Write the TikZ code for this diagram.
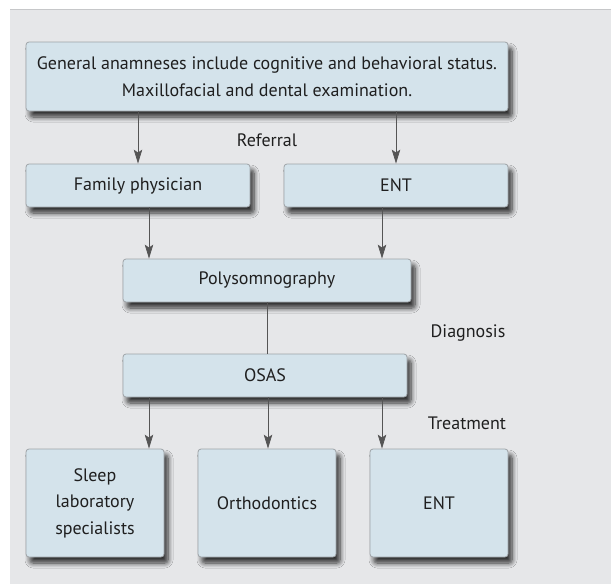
\documentclass[tikz,border=0pt]{standalone}
\usepackage{fontspec}
\setmainfont{PT Sans}
\usetikzlibrary{shadows.blur,arrows.meta}
\definecolor{panelfill}{HTML}{E6E7E9}
\definecolor{panelline}{HTML}{C6C7C9}
\definecolor{boxfill}{HTML}{D4E3EB}
\definecolor{boxline}{HTML}{9EA3A7}
\definecolor{arrowcol}{HTML}{555555}
\tikzset{
  stepbox/.style={draw=boxline, fill=boxfill, rounded corners=3pt, line width=0.8pt,
    blur shadow={shadow xshift=4pt, shadow yshift=-6pt, shadow blur steps=8, shadow blur radius=5pt, shadow opacity=80},
    inner sep=0pt, font=\fontsize{18}{26.5}\selectfont, align=center, text=black!88},
  conn/.style={draw=arrowcol, line width=0.7pt, -{Stealth[length=14pt,width=8.5pt,inset=3pt]}},
  plain/.style={draw=arrowcol, line width=0.7pt},
  lbl/.style={font=\fontsize{18}{26}\selectfont, text=black!88}
}
\begin{document}
\begin{tikzpicture}[x=1pt,y=-1pt]
\useasboundingbox (0,0) rectangle (611,584);
\draw[panelline, fill=panelfill, line width=0.8pt] (10,620) -- (10,9.5) -- (640,9.5);
\fill[panelfill] (10.4,9.9) rectangle (640,640);
\node[stepbox, minimum width=482pt, minimum height=69pt] (top) at (267,76.5)
  {General anamneses include cognitive and behavioral status.\\Maxillofacial and dental examination.};
\node[stepbox, minimum width=224pt, minimum height=43pt] (fam) at (138,185.5) {Family physician};
\node[stepbox, minimum width=224pt, minimum height=43pt] (ent1) at (396,185.5) {ENT};
\node[stepbox, minimum width=288pt, minimum height=43pt] (poly) at (267,280.5) {Polysomnography};
\node[stepbox, minimum width=284pt, minimum height=43pt] (osas) at (265,375.5) {OSAS};
\node[stepbox, minimum width=138pt, minimum height=108pt] (sleep) at (95,503) {Sleep\\laboratory\\specialists};
\node[stepbox, minimum width=138pt, minimum height=108pt] (ortho) at (267,503) {Orthodontics};
\node[stepbox, minimum width=138pt, minimum height=108pt] (ent2) at (439,503) {ENT};
\node[lbl] (referral) at (267,140) {Referral};
\node[lbl] (diagnosis) at (468,333) {Diagnosis};
\node[lbl] (treatment) at (467,423) {Treatment};
\draw[conn] (top.south -| 138,0) -- (fam.north -| 138,0);
\draw[conn] (top.south -| 396,0) -- (ent1.north -| 396,0);
\draw[conn] (fam.south -| 149,0) -- (poly.north -| 149,0);
\draw[conn] (ent1.south -| 382,0) -- (poly.north -| 382,0);
\draw[plain] (poly.south -| 267,0) -- (osas.north -| 267,0);
\draw[conn] (osas.south -| 149,0) -- (sleep.north -| 149,0);
\draw[conn] (osas.south -| 268,0) -- (ortho.north -| 268,0);
\draw[conn] (osas.south -| 382,0) -- (ent2.north -| 382,0);
\end{tikzpicture}
\end{document}
